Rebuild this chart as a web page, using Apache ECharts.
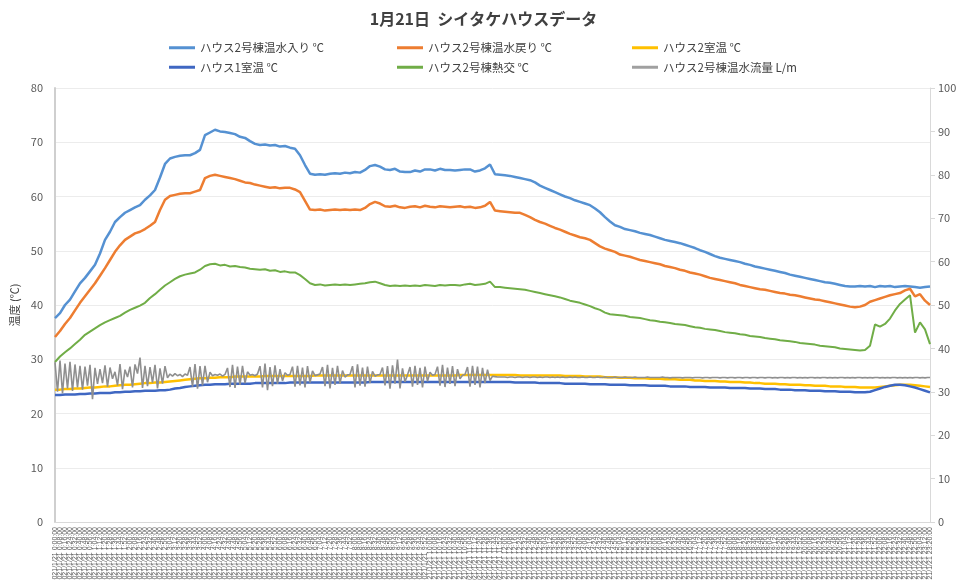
<!DOCTYPE html>
<html lang="ja">
<head>
<meta charset="utf-8">
<title>1月21日 シイタケハウスデータ</title>
<script src="https://cdn.jsdelivr.net/npm/echarts@6/dist/echarts.min.js"></script>
<style>
  html, body { margin: 0; padding: 0; background: #ffffff; }
  #chart { width: 967px; height: 580px; }
</style>
</head>
<body>
<div id="chart"></div>
<script>
// Time stamps: temperatures are logged every 8 minutes, the flow meter every 4 minutes
function stamps(count, stepMin) {
  const out = [];
  for (let k = 0; k < count; k++) {
    const m = k * stepMin;
    out.push('2021/1/21 ' + Math.floor(m / 60) + ':' + String(m % 60).padStart(2, '0') + ':00');
  }
  return out;
}
const timeLabels = stamps(176, 8);
const flowTimes = stamps(351, 4);

const seriesNames = [
  'ハウス2号棟温水入り ℃',
  'ハウス2号棟温水戻り ℃',
  'ハウス2室温 ℃',
  'ハウス1室温 ℃',
  'ハウス2号棟熱交 ℃',
  'ハウス2号棟温水流量 L/m'
];

// Hot water supply temperature (℃)
const waterIn = [
  37.6,38.5,40,41,42.5,44,45,46.2,47.4,49.5,
  52,53.5,55.3,56.2,57,57.5,58,58.4,59.4,60.2,
  61.2,63.5,66,67,67.3,67.5,67.6,67.6,68,68.6,
  71.3,71.8,72.3,72.0,71.9,71.7,71.5,71.0,70.8,70.2,
  69.7,69.5,69.6,69.4,69.5,69.2,69.3,69.0,68.8,67.6,
  65.8,64.2,64.0,64.1,64.0,64.2,64.3,64.2,64.4,64.3,
  64.5,64.4,64.9,65.6,65.8,65.5,65.0,64.9,65.1,64.6,
  64.5,64.5,64.8,64.6,65.0,65.0,64.8,65.1,64.9,64.9,
  64.8,64.9,65.0,65.0,64.6,64.8,65.2,65.9,64.1,64.0,
  63.9,63.8,63.6,63.4,63.2,63.0,62.6,62.0,61.6,61.2,
  60.8,60.4,60.0,59.7,59.3,59.0,58.7,58.4,57.8,57.1,
  56.2,55.4,54.7,54.4,54.0,53.8,53.6,53.3,53.1,52.9,
  52.6,52.3,52.0,51.8,51.6,51.4,51.1,50.8,50.5,50.1,
  49.8,49.4,49.0,48.7,48.5,48.3,48.1,47.9,47.6,47.4,
  47.1,46.9,46.7,46.5,46.3,46.1,45.9,45.6,45.4,45.2,
  45.0,44.8,44.6,44.4,44.2,44.1,43.9,43.7,43.5,43.4,
  43.4,43.5,43.4,43.5,43.3,43.5,43.4,43.5,43.3,43.4,
  43.5,43.4,43.3,43.2,43.3,43.4
];

// Hot water return temperature (℃)
const waterOut = [
  34.1,35.2,36.5,37.6,39.0,40.4,41.6,42.8,44.0,45.4,
  46.8,48.3,49.8,51.0,52.0,52.6,53.2,53.5,54.0,54.6,
  55.3,57.5,59.4,60.1,60.3,60.5,60.6,60.6,60.9,61.2,
  63.4,63.8,64.0,63.8,63.6,63.4,63.2,62.9,62.6,62.5,
  62.2,62.0,61.8,61.6,61.7,61.5,61.6,61.6,61.3,60.8,
  59.2,57.6,57.5,57.6,57.4,57.5,57.6,57.5,57.6,57.5,
  57.6,57.5,57.9,58.6,59.0,58.7,58.2,58.1,58.3,58.0,
  57.9,58.1,58.2,58.0,58.3,58.1,58.0,58.2,58.1,58.0,
  58.1,58.2,58.0,58.1,57.9,58.0,58.3,59.0,57.4,57.3,
  57.2,57.1,57.0,57.0,56.6,56.2,55.7,55.3,55.0,54.6,
  54.2,53.9,53.5,53.1,52.8,52.5,52.3,52.0,51.4,50.8,
  50.4,50.1,49.8,49.3,49.1,48.9,48.6,48.3,48.1,47.9,
  47.7,47.5,47.2,47.0,46.8,46.5,46.3,46.0,45.8,45.6,
  45.3,45.0,44.8,44.6,44.4,44.2,44.0,43.7,43.5,43.3,
  43.1,42.9,42.8,42.6,42.4,42.2,42.1,41.9,41.8,41.6,
  41.4,41.2,41.0,40.9,40.7,40.5,40.3,40.1,39.9,39.7,
  39.6,39.7,40.0,40.6,40.9,41.2,41.5,41.8,42.0,42.2,
  42.7,43.0,41.6,42.0,40.8,40.0
];

// House 2 room temperature (℃)
const room2 = [
  24.4,24.4,24.5,24.5,24.6,24.6,24.7,24.8,24.8,24.9,
  25.0,25.0,25.1,25.2,25.3,25.3,25.4,25.5,25.6,25.6,
  25.7,25.7,25.8,25.9,26.0,26.1,26.2,26.3,26.4,26.5,
  26.5,26.6,26.6,26.7,26.7,26.7,26.8,26.8,26.8,26.8,
  26.8,26.8,26.9,26.9,26.9,26.9,26.9,26.9,26.9,26.9,
  26.9,26.9,27.0,27.0,27.0,27.0,27.0,27.0,27.0,27.0,
  27.0,27.0,27.0,27.0,27.0,27.0,27.0,27.0,27.0,27.0,
  27.0,27.0,27.0,27.0,27.0,27.0,27.0,27.0,27.0,27.0,
  27.0,27.1,27.1,27.1,27.1,27.1,27.1,27.1,27.1,27.1,
  27.1,27.1,27.1,27.0,27.0,27.0,27.0,27.0,27.0,27.0,
  27.0,27.0,26.9,26.9,26.9,26.9,26.8,26.8,26.8,26.8,
  26.7,26.7,26.7,26.6,26.6,26.6,26.5,26.5,26.5,26.4,
  26.4,26.4,26.3,26.3,26.3,26.2,26.2,26.2,26.1,26.1,
  26.0,26.0,26.0,25.9,25.9,25.8,25.8,25.8,25.7,25.7,
  25.6,25.6,25.5,25.5,25.5,25.4,25.4,25.3,25.3,25.3,
  25.2,25.2,25.1,25.1,25.1,25.0,25.0,25.0,24.9,24.9,
  24.9,24.8,24.8,24.8,24.8,24.9,25.0,25.1,25.2,25.3,
  25.3,25.3,25.2,25.1,25.0,24.9
];

// House 1 room temperature (℃)
const room1 = [
  23.4,23.4,23.5,23.5,23.5,23.6,23.6,23.7,23.7,23.8,
  23.8,23.8,23.9,23.9,24.0,24.0,24.1,24.1,24.2,24.2,
  24.2,24.3,24.3,24.4,24.6,24.7,24.9,25.0,25.1,25.2,
  25.3,25.3,25.4,25.4,25.4,25.5,25.5,25.5,25.5,25.5,
  25.6,25.6,25.6,25.6,25.6,25.6,25.6,25.7,25.7,25.7,
  25.7,25.7,25.7,25.7,25.7,25.7,25.7,25.7,25.7,25.7,
  25.7,25.7,25.7,25.8,25.8,25.8,25.8,25.8,25.8,25.8,
  25.8,25.8,25.8,25.8,25.8,25.8,25.8,25.8,25.8,25.8,
  25.8,25.8,25.8,25.8,25.8,25.8,25.8,25.8,25.8,25.8,
  25.8,25.8,25.7,25.7,25.7,25.7,25.7,25.6,25.6,25.6,
  25.6,25.6,25.5,25.5,25.5,25.5,25.5,25.4,25.4,25.4,
  25.4,25.3,25.3,25.3,25.3,25.2,25.2,25.2,25.2,25.1,
  25.1,25.1,25.1,25.0,25.0,25.0,25.0,24.9,24.9,24.9,
  24.9,24.8,24.8,24.8,24.8,24.7,24.7,24.7,24.7,24.6,
  24.6,24.6,24.5,24.5,24.5,24.4,24.4,24.4,24.3,24.3,
  24.3,24.2,24.2,24.2,24.1,24.1,24.1,24.0,24.0,24.0,
  23.9,23.9,23.9,24.0,24.3,24.6,24.9,25.1,25.3,25.3,
  25.2,25.0,24.8,24.5,24.2,23.9
];

// Heat exchanger temperature (℃)
const exchanger = [
  29.5,30.5,31.3,32.0,32.8,33.6,34.5,35.1,35.7,36.3,
  36.8,37.2,37.6,38.0,38.6,39.1,39.5,39.9,40.4,41.3,
  42.0,42.8,43.6,44.2,44.8,45.3,45.6,45.8,46.0,46.5,
  47.2,47.5,47.6,47.3,47.4,47.1,47.2,47.0,46.9,46.7,
  46.6,46.5,46.6,46.3,46.4,46.1,46.2,46.0,46.0,45.5,
  44.8,44.0,43.7,43.8,43.6,43.7,43.8,43.7,43.8,43.7,
  43.8,43.9,44.0,44.2,44.3,44.0,43.7,43.5,43.6,43.5,
  43.6,43.5,43.6,43.5,43.7,43.6,43.5,43.7,43.6,43.7,
  43.7,43.6,43.8,43.9,43.7,43.8,43.9,44.3,43.3,43.3,
  43.2,43.1,43.0,42.9,42.8,42.6,42.4,42.2,42.0,41.8,
  41.6,41.4,41.1,40.8,40.6,40.4,40.1,39.8,39.4,39.1,
  38.6,38.3,38.2,38.1,38.0,37.8,37.7,37.6,37.4,37.2,
  37.1,36.9,36.8,36.7,36.5,36.4,36.3,36.1,35.9,35.8,
  35.6,35.5,35.4,35.2,35.0,34.9,34.8,34.6,34.5,34.3,
  34.2,34.1,33.9,33.8,33.7,33.5,33.4,33.3,33.2,33.0,
  32.9,32.8,32.7,32.5,32.4,32.3,32.2,32.0,31.9,31.8,
  31.7,31.6,31.7,32.5,36.4,36.0,36.5,37.5,39.0,40.2,
  41.0,41.8,34.9,36.8,35.5,32.8
];

// Hot water flow rate (L/m), right axis, 4-minute readings
const flow = [
  36.8,30.0,37.2,29.6,36.5,30.8,36.9,30.2,36.3,31.0,
  36.0,30.5,35.8,31.4,36.2,28.3,35.5,31.8,35.2,32.0,
  36.1,31.2,35.6,33.0,34.6,31.5,36.4,30.6,35.1,33.4,
  35.8,31.0,36.3,34.2,37.9,30.9,36.0,31.3,35.7,32.1,
  36.2,30.8,35.4,31.9,35.9,33.2,34.1,33.6,34.2,33.7,
  34.0,33.5,34.1,33.8,35.7,31.2,36.4,30.7,35.9,31.5,
  36.0,32.2,34.5,33.7,34.0,33.8,34.1,33.6,34.0,35.5,
  31.1,36.2,30.9,35.8,31.6,36.0,32.0,34.6,33.8,34.0,
  33.7,34.1,35.9,31.0,36.5,30.4,35.7,31.3,36.1,31.8,
  35.2,32.5,34.4,33.8,34.0,35.8,31.2,36.0,31.5,35.6,
  31.0,35.9,32.1,34.8,33.7,33.9,34.1,35.7,31.3,36.2,
  30.8,35.5,31.6,36.0,31.9,34.9,33.4,33.9,34.0,35.9,
  31.0,36.3,31.4,35.6,31.2,35.8,32.0,34.7,33.6,33.9,
  34.0,35.6,31.5,35.9,30.7,36.1,31.9,37.4,30.8,35.4,
  32.3,33.9,35.7,31.2,36.0,31.6,35.5,31.0,35.8,32.4,
  34.5,33.8,34.0,35.8,31.4,36.2,31.1,35.6,31.8,35.9,
  31.3,35.2,33.0,33.8,34.0,35.7,31.2,36.0,31.6,35.8,
  31.0,35.5,32.0,35.1,32.6,33.6,33.5,33.4,33.4,33.4,
  33.4,33.3,33.4,33.4,33.3,33.4,33.4,33.3,33.4,33.4,
  33.3,33.4,33.4,33.3,33.4,33.3,33.4,33.4,33.3,33.4,
  33.3,33.4,33.3,33.4,33.3,33.3,33.4,33.3,33.4,33.3,
  33.3,33.4,33.3,33.3,33.4,33.3,33.3,33.4,33.3,33.3,
  33.4,33.3,33.3,33.3,33.4,33.3,33.3,33.3,33.4,33.3,
  33.3,33.3,33.4,33.3,33.3,33.3,33.3,33.4,33.3,33.3,
  33.3,33.3,33.3,33.4,33.3,33.3,33.2,33.3,33.3,33.3,
  33.3,33.2,33.3,33.3,33.3,33.2,33.3,33.3,33.3,33.2,
  33.3,33.3,33.2,33.3,33.3,33.3,33.2,33.3,33.3,33.2,
  33.3,33.3,33.2,33.3,33.3,33.2,33.3,33.3,33.2,33.3,
  33.3,33.2,33.3,33.3,33.2,33.3,33.3,33.2,33.3,33.2,
  33.3,33.3,33.2,33.3,33.2,33.3,33.3,33.2,33.3,33.2,
  33.3,33.2,33.3,33.3,33.2,33.3,33.2,33.3,33.3,33.2,
  33.3,33.2,33.3,33.2,33.3,33.3,33.2,33.3,33.2,33.3,
  33.2,33.3,33.3,33.2,33.3,33.2,33.3,33.2,33.3,33.3,
  33.2,33.3,33.2,33.3,33.2,33.3,33.3,33.2,33.3,33.2,
  33.3,33.2,33.3,33.2,33.3,33.3,33.2,33.3,33.2,33.3,
  33.3
];

// Axis ranges and ticks
const leftTicks = { min: 0, max: 80, interval: 10 };
const rightTicks = { min: 0, max: 100, interval: 10 };

const colors = ['#5591d2', '#ed7d31', '#ffc000', '#3f67c2', '#70ad47', '#a0a0a0'];
const FONT = '"Noto Sans CJK JP", "Noto Sans", sans-serif';

const chart = echarts.init(document.getElementById('chart'), null, { renderer: 'canvas' });

function legendBlock(left, names) {
  return {
    left: left,
    top: 37,
    orient: 'vertical',
    itemGap: 8,
    itemWidth: 26,
    itemHeight: 3,
    icon: 'rect',
    selectedMode: false,
    data: names,
    textStyle: { fontFamily: FONT, fontSize: 11.5, color: '#404040' }
  };
}

const lineSeries = (name, data, color, yIndex, width) => ({
  name: name,
  type: 'line',
  data: data,
  yAxisIndex: yIndex,
  symbol: 'none',
  showSymbol: false,
  color: color,
  lineStyle: { width: width, color: color },
  emphasis: { disabled: true }
});

chart.setOption({
  animation: false,
  backgroundColor: '#ffffff',
  textStyle: { fontFamily: FONT },
  title: {
    text: '1月21日  シイタケハウスデータ',
    left: 'center',
    top: 6,
    textStyle: { fontFamily: FONT, fontSize: 16, fontWeight: 'bold', color: '#404040' }
  },
  legend: [
    legendBlock(164, [seriesNames[0], seriesNames[3]]),
    legendBlock(392, [seriesNames[1], seriesNames[4]]),
    legendBlock(627, [seriesNames[2], seriesNames[5]])
  ],
  grid: { left: 55, right: 37, top: 88, bottom: 58, containLabel: false, outerBoundsMode: 'none' },
  xAxis: [
    {
      type: 'category',
      data: timeLabels,
      boundaryGap: false,
      axisLine: { show: true, lineStyle: { color: '#d9d9d9', width: 1 } },
      axisTick: { show: false },
      axisLabel: {
        interval: 0,
        rotate: 90,
        fontSize: 7,
        color: '#595959',
        margin: 5,
        fontFamily: 'Liberation Sans, sans-serif'
      },
      splitLine: { show: false }
    },
    {
      type: 'category',
      data: flowTimes,
      boundaryGap: false,
      show: false
    }
  ],
  yAxis: [
    {
      type: 'value',
      min: leftTicks.min,
      max: leftTicks.max,
      interval: leftTicks.interval,
      name: '温度 (℃)',
      nameLocation: 'middle',
      nameGap: 30,
      nameRotate: 90,
      nameTextStyle: { fontFamily: FONT, fontSize: 11, color: '#404040', padding: [0, 0, -45, 0] },
      axisLine: { show: true, lineStyle: { color: '#cfcfcf', width: 2 } },
      axisTick: { show: false },
      axisLabel: { fontSize: 11, color: '#595959', margin: 12 },
      splitLine: { show: true, lineStyle: { color: '#ececec', width: 1 } }
    },
    {
      type: 'value',
      min: rightTicks.min,
      max: rightTicks.max,
      interval: rightTicks.interval,
      position: 'right',
      axisLine: { show: true, lineStyle: { color: '#d9d9d9', width: 1 } },
      axisTick: { show: true, length: 5, lineStyle: { color: '#d9d9d9' } },
      axisLabel: { fontSize: 11, color: '#595959', margin: 8 },
      splitLine: { show: false }
    }
  ],
  series: [
    lineSeries(seriesNames[0], waterIn, colors[0], 0, 2.5),
    lineSeries(seriesNames[1], waterOut, colors[1], 0, 2.5),
    lineSeries(seriesNames[2], room2, colors[2], 0, 2.5),
    lineSeries(seriesNames[3], room1, colors[3], 0, 2.5),
    lineSeries(seriesNames[4], exchanger, colors[4], 0, 2),
    Object.assign(lineSeries(seriesNames[5], flow, colors[5], 1, 1.6), {
      xAxisIndex: 1,
      lineStyle: { width: 1.6, color: '#8f8f8f' }
    })
  ]
});
</script>
</body>
</html>
